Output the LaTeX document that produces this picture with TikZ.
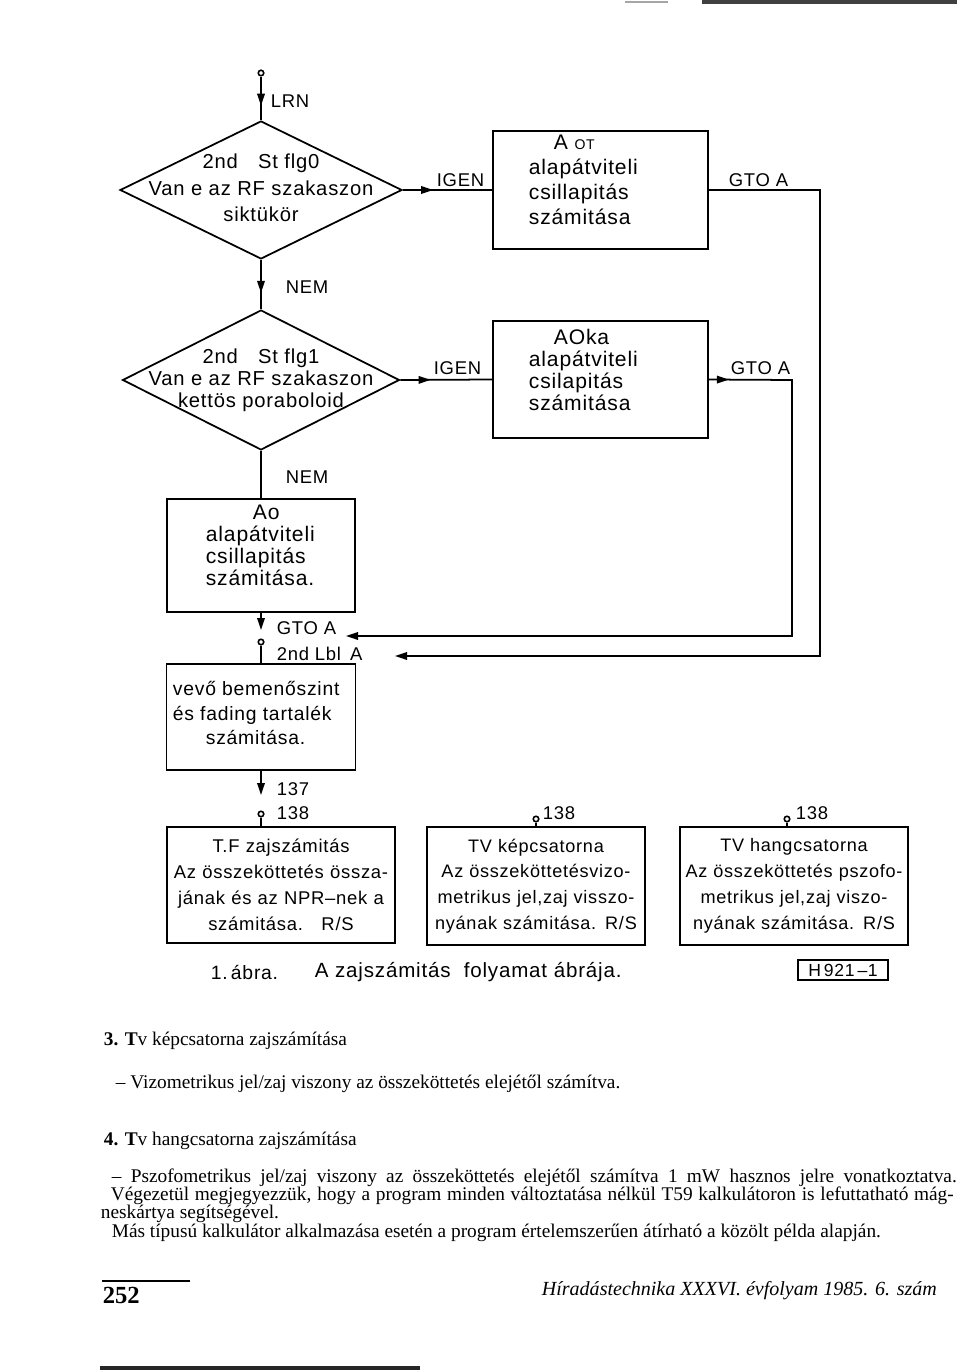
\documentclass[tikz,border=0pt]{standalone}
\usepackage{fontspec}
\setmainfont{Liberation Serif}
\newfontfamily\lett[LetterSpace=4]{Liberation Sans}
\usetikzlibrary{positioning,arrows.meta,calc,shapes.geometric,decorations.markings}

\begin{document}
\begin{tikzpicture}[x=0.02cm,y=-0.02cm,line width=1pt,
  bx/.style={draw,line width=1pt,inner ysep=0pt,align=left},
  bt/.style={anchor=west,inner sep=0pt,align=left},
  dia/.style={diamond,draw,line width=1pt,inner sep=0pt},
  con/.style={circle,draw,line width=.9pt,inner sep=0pt,minimum size=.11cm,fill=white},
  lab/.style={anchor=west,inner sep=0pt,font=\lett\fontsize{10.5}{12}\selectfont},
  tag/.style={anchor=south west,inner sep=0pt,font=\lett\fontsize{10.5}{12}\selectfont},
  marr/.style={postaction={decorate},decoration={markings,
      mark=at position #1 with {\arrow{Triangle[length=2.4mm,width=1.5mm]}}}},
  arr/.style={-{Triangle[length=2.4mm,width=1.5mm]}},
  txt/.style={anchor=west,inner sep=0pt,font=\rmfamily\fontsize{11}{12}\selectfont}]

\useasboundingbox (0,0) rectangle (960,1371);

% page edges
\fill[black!35] (625,1) rectangle (668,3);
\fill[black!75] (702,0) rectangle (957,4);
\fill[black!85] (100,1366) rectangle (420,1370);

% first question
\node[con] (in) at (261,73) {};
\node[lab] (lrn) at (270,101) {LRN};
\node[dia,minimum width=5.64cm,minimum height=2.76cm] (d1) at (261,190) {};
\node[align=center,font=\lett\fontsize{11.5}{15}\selectfont] (t1) at (261,188)
  {2nd\quad St flg0\\Van e az RF szakaszon\\siktükör};
\draw[marr=.67] (in) -- (d1.north);

\node[bx,minimum width=4.3cm,minimum height=2.36cm] (b1) at (600.5,190) {};
\node[bt,font=\lett\fontsize{12}{14.2}\selectfont] (b1t) at (528,180)
  {\hspace*{.5cm}A {\footnotesize OT}\\alapátviteli\\csillapitás\\számitása};
\draw[marr=.34] (d1.east) -- (b1.west);
\node[tag] (ig1) at (436,188) {IGEN};

% second question
\node[dia,minimum width=5.54cm,minimum height=2.8cm] (d2) at (261,380) {};
\node[align=center,font=\lett\fontsize{11.5}{12.5}\selectfont] (t2) at (261,380)
  {2nd\quad St flg1\\Van e az RF szakaszon\\kettös poraboloid};
\draw[marr=.67] (d1.south) -- (d2.north);
\node[lab] (nem1) at (285,287) {NEM};

\node[bx,minimum width=4.3cm,minimum height=2.34cm] (b2) at (600.5,379.5) {};
\node[bt,font=\lett\fontsize{12}{12.5}\selectfont] (b2t) at (528,370)
  {\hspace*{.5cm}AOka\\alapátviteli\\csilapitás\\számitása};
\draw[marr=.33] (d2.east) -- (b2.west);
\node[tag] (ig2) at (433,376) {IGEN};

% jumps back to label A
\coordinate (r1) at (820,190);
\coordinate (r2) at (792,380);
\coordinate (e1) at (346,636);
\coordinate (e2) at (395,656);
\draw[arr] (b1.east) -- (r1) -- (r1 |- e2) -- (e2);
\draw[arr,marr=.4cm] (b2.east) -- (r2) -- (r2 |- e1) -- (e1);
\node[tag] (g1) at (728,188) {GTO A};
\node[tag] (g2) at (730,376) {GTO A};

% no branch
\node[bx,minimum width=3.76cm,minimum height=2.26cm] (b3) at (261,555.5) {};
\node[bt,font=\lett\fontsize{12}{12.5}\selectfont] (b3t) at (205,545)
  {\hspace*{.94cm}Ao\\alapátviteli\\csillapitás\\számitása.};
\draw (d2.south) -- (b3.north);
\node[lab] (nem2) at (285,477) {NEM};

\coordinate (a1) at (261,630);
\draw[arr] (b3.south) -- (a1);
\node[lab] (g3) at (276,628) {GTO A};
\node[con] (c1) at (261,642) {};
\node[lab] (lbl) at (276,654) {2nd Lbl\,\ A};

\node[bx,minimum width=3.78cm,minimum height=2.12cm] (b4) at (261,717) {};
\node[bt,font=\lett\fontsize{11}{14.2}\selectfont] (b4t) at (172,713)
  {vevő bemenőszint\\és fading tartalék\\\hspace*{.66cm}számitása.};
\draw (c1) -- (b4.north);

\coordinate (a2) at (261,795);
\draw[arr] (b4.south) -- (a2);
\node[lab] (n137) at (276,789) {137};
\node[con] (c2) at (261,814) {};
\node[lab] (n138a) at (276,813) {138};

% three closing blocks
\node[bx,align=center,minimum height=2.32cm,text width=4.4cm,inner xsep=.08cm,
      font=\lett\fontsize{10.5}{14.7}\selectfont] (b5) at (281,885)
  {T.F zajszámitás\\Az összeköttetés össza-\\jának és az NPR–nek a\\számitása.\quad R/S};
\draw (c2) -- (c2 |- b5.north);

\node[bx,align=center,minimum height=2.36cm,text width=4.3cm,inner xsep=.03cm,
      font=\lett\fontsize{10.3}{14.7}\selectfont] (b6) at (536,886)
  {TV képcsatorna\\Az összeköttetésvizo-\\metrikus jel,zaj visszo-\\nyának számitása. R/S};
\node[con] (c3) at (536,819) {};
\node[lab] (n138b) at (542,813) {138};
\draw (c3) -- (b6.north);

\node[bx,align=center,minimum height=2.36cm,text width=4.5cm,inner xsep=.03cm,
      font=\lett\fontsize{10.3}{14.7}\selectfont] (b7) at (794,886)
  {TV hangcsatorna\\Az összeköttetés pszofo-\\metrikus jel,zaj viszo-\\nyának számitása. R/S};
\node[con] (c4) at (787,819) {};
\node[lab] (n138c) at (795,813) {138};
\draw (c4) -- (c4 |- b7.north);

% caption
\node[lab,font=\lett\fontsize{11}{12}\selectfont] (cap1) at (210,972) {1.\,ábra.};
\node[lab,font=\lett\fontsize{11.7}{12}\selectfont] (cap2) at (314,972) {A zajszámitás\ \ folyamat ábrája.};
\node[draw,line width=.8pt,minimum width=1.8cm,minimum height=.4cm,inner sep=0pt,
      font=\lett\fontsize{10}{11}\selectfont] (hno) at (843,970) {H\,921\,–1};

% text of the page
\node[txt] (p1) at (103,1041) {\textbf{3. T}v képcsatorna\ zajszámítása};
\node[txt] (p2) at (115,1084) {– Vizometrikus jel/zaj viszony az összeköttetés elejétől számítva.};
\node[txt] (p3) at (103,1141) {\textbf{4. T}v hangcsatorna\ zajszámítása};
\node[txt] (p4) at (111,1178) {\makebox[16.9cm][s]{– Pszofometrikus jel/zaj viszony az összeköttetés elejétől számítva 1 mW hasznos jelre vonatkoztatva.}};
\node[txt] (p5) at (110,1196) {\makebox[16.86cm][s]{Végezetül megjegyezzük, hogy a program minden változtatása nélkül T59 kalkulátoron is lefuttatható mág-}};
\node[txt] (p6) at (100,1214) {neskártya segítségével.};
\node[txt] (p7) at (111,1233) {Más típusú kalkulátor alkalmazása esetén a program értelemszerűen átírható a közölt példa alapján.};

% foot line
\draw[line width=.8pt] (102,1281) -- (190,1281);
\node[txt,font=\rmfamily\bfseries\fontsize{14}{14}\selectfont] (pg) at (102,1295) {252};
\node[txt,font=\rmfamily\itshape\fontsize{11.4}{12}\selectfont] (jr) at (541,1291)
  {Híradástechnika XXXVI. évfolyam 1985. 6. szám};

\end{tikzpicture}
\end{document}
